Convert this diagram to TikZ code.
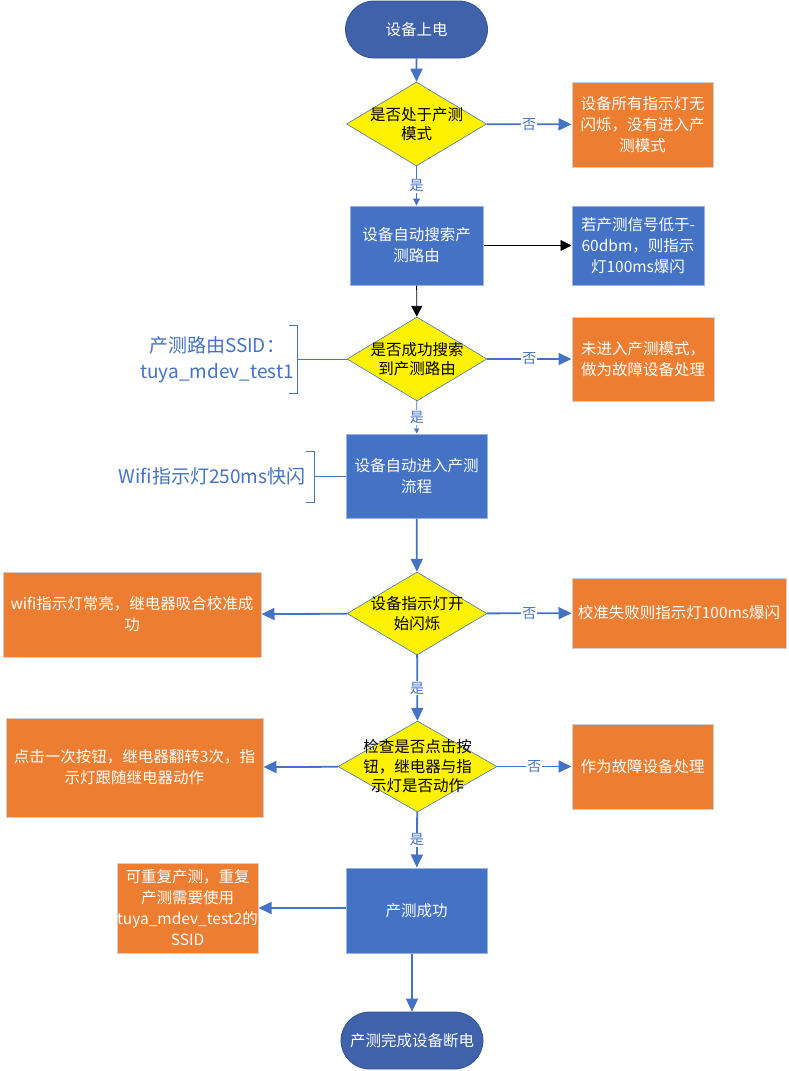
\documentclass[tikz,border=0pt]{standalone}
\usepackage{fontspec}
\newfontfamily\cjk{Noto Sans CJK SC}
\usetikzlibrary{arrows.meta, positioning, shapes.geometric, shapes.misc}
\definecolor{procblue}{HTML}{4472C4}
\definecolor{termblue}{HTML}{3F62AB}
\definecolor{failorange}{HTML}{ED7D31}
\definecolor{paleedge}{HTML}{CFCFCF}
\definecolor{procedge}{HTML}{9DB3DF}

\begin{document}
\begin{tikzpicture}[
  x=1pt, y=-1pt,
  term/.style={rounded rectangle, fill=termblue, draw=termblue!85!black, line width=0.8pt,
               minimum width=142pt, minimum height=57pt, inner sep=0pt,
               text=white, font=\cjk\fontsize{15.5}{21}\selectfont},
  proc/.style={rectangle, fill=procblue, draw=procedge, line width=1pt,
               minimum width=141pt, minimum height=84pt, inner sep=0pt,
               align=center, text=white, font=\cjk\fontsize{15.5}{21}\selectfont},
  fail/.style={proc, fill=failorange, draw=paleedge},
  decide/.style={diamond, fill=yellow, draw=procblue, line width=0.6pt,
                 minimum width=140pt, minimum height=84pt, inner sep=0pt},
  dtext/.style={align=center, text=black, font=\cjk\fontsize{15.5}{19.5}\selectfont},
  note/.style={align=center, text=procblue, font=\cjk\fontsize{19}{26}\selectfont},
  yn/.style={fill=white, inner sep=1pt, text=procblue, font=\cjk\fontsize{14}{16}\selectfont},
  arrow/.style={-{Triangle[length=13pt, width=12pt]}, draw=procblue, line width=1.8pt},
  slim/.style={-{Triangle[length=7pt, width=7pt]}, draw=procblue, line width=1.2pt},
  blk/.style={-{Triangle[length=11pt, width=11pt]}, draw=black, line width=0.9pt},
  brace/.style={draw=procblue, line width=1pt}
]
\useasboundingbox (0,0) rectangle (789,1071);

% main column
\node[term] (power) at (416.5,29.5) {设备上电};
\node[decide, label={[dtext]center:{是否处于产测\\模式}}] (inmode) at (416.5,124) {};
\node[proc, minimum width=133pt, minimum height=79pt] (search) at (416.5,245.5) {设备自动搜索产\\测路由};
\node[decide, label={[dtext]center:{是否成功搜索\\到产测路由}}] (found) at (417,359) {};
\node[proc] (enter) at (416.5,476) {设备自动进入产测\\流程};
\node[decide, minimum height=83pt, label={[dtext]center:{设备指示灯开\\始闪烁}}] (blink) at (417,613.5) {};
\node[decide, minimum width=159pt, minimum height=91pt,
      label={[dtext]center:{检查是否点击按\\钮，继电器与指\\示灯是否动作}}] (check) at (417.5,766.5) {};
\node[proc, minimum height=85pt] (passed) at (416.5,910.5) {产测成功};
\node[term] (poweroff) at (412,1040.5) {产测完成设备断电};

% side boxes
\node[fail, minimum height=85pt] (nomode) at (642.5,124.5) {设备所有指示灯无\\闪烁，没有进入产\\测模式};
\node[proc, minimum width=132pt, minimum height=79pt] (weak) at (638,245.5) {若产测信号低于-\\60dbm，则指示\\灯100ms爆闪};
\node[fail, minimum width=142pt] (notfound) at (643,359) {未进入产测模式，\\做为故障设备处理};
\node[fail, minimum width=258pt, minimum height=85pt] (calok) at (132,614.5) {wifi指示灯常亮，继电器吸合校准成\\功};
\node[fail, minimum width=214pt, minimum height=70pt] (calfail) at (679,613) {校准失败则指示灯100ms爆闪};
\node[fail, minimum width=257pt, minimum height=99pt] (relayok) at (134.5,767.5) {点击一次按钮，继电器翻转3次，指\\示灯跟随继电器动作};
\node[fail, minimum height=85pt] (faulty) at (642.5,766.5) {作为故障设备处理};
\node[fail, minimum height=90pt] (again) at (187.5,908) {可重复产测，重复\\产测需要使用\\tuya\_mdev\_test2的\\SSID};

% notes
\node[note] (ssid) at (217,360) {产测路由SSID：\\tuya\_mdev\_test1};
\node[note] (wifi) at (212,476) {Wifi指示灯250ms快闪};
\draw[brace] (289,325) -- (297,325) -- (297,393) -- (289,393);
\coordinate (ssidtip) at (297,359);
\draw[brace] (ssidtip) -- (found.west);
\draw[brace] (306,451) -- (314,451) -- (314,502) -- (306,502);
\coordinate (wifitip) at (314,476);
\draw[brace] (wifitip) -- (enter.west);

% connectors
\draw[arrow] (power) -- (inmode);
\draw[arrow] (inmode) -- node[yn] {否} (nomode);
\draw[slim] (inmode) -- node[yn] {是} (search);
\draw[blk] (search) -- (weak);
\draw[blk] (search) -- (found);
\draw[arrow] (found) -- node[yn] {否} (notfound);
\draw[slim, -{Triangle[length=5pt, width=5pt]}, line width=0.8pt] (found) -- node[yn] {是} (enter);
\draw[arrow] (enter) -- (blink);
\draw[arrow] (blink) -- (calok);
\draw[arrow] (blink) -- node[yn] {否} (calfail);
\draw[arrow] (blink) -- node[yn] {是} (check);
\draw[arrow] (check) -- (relayok);
\draw[arrow] (check) -- node[yn] {否} (faulty);
\draw[arrow] (check) -- node[yn] {是} (passed);
\draw[arrow] (passed.west |- again.east) -- (again.east);
\draw[arrow] (poweroff.north |- passed.south) -- (poweroff.north);

\end{tikzpicture}
\end{document}
